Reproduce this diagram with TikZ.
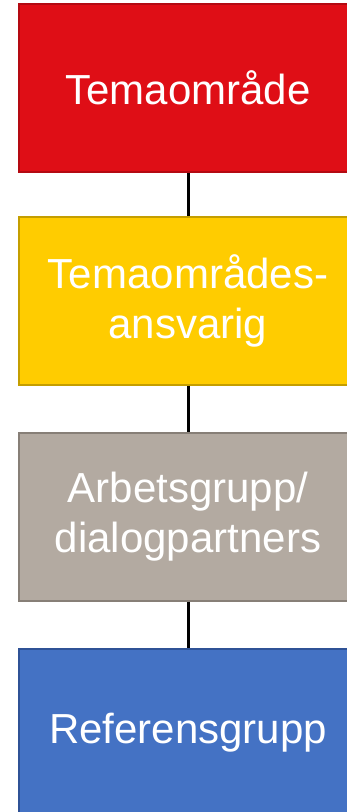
\documentclass[tikz,border=0pt]{standalone}
\usepackage{fontspec}
\setmainfont{Liberation Sans}
\definecolor{redfill}{RGB}{223,14,22}
\definecolor{redline}{RGB}{180,10,18}
\definecolor{yelfill}{RGB}{255,204,0}
\definecolor{yelline}{RGB}{196,158,0}
\definecolor{grayfill}{RGB}{179,170,161}
\definecolor{grayline}{RGB}{135,127,119}
\definecolor{bluefill}{RGB}{68,114,196}
\definecolor{blueline}{RGB}{47,82,150}
\tikzset{
  box/.style={draw, line width=2pt, minimum width=338pt, minimum height=168pt,
    inner sep=0pt, text=white, align=center,
    font=\fontsize{42}{50}\selectfont},
  link/.style={line width=3pt, black}
}
\begin{document}
\begin{tikzpicture}[x=1pt,y=-1pt]
\useasboundingbox (0,0) rectangle (347,812);
\clip (0,0) rectangle (347,812);
\node[box, fill=redfill, draw=redline] (r) at (188,88) {Temaområde};
\node[box, fill=yelfill, draw=yelline] (y) at (188,300.5) {Temaområdes-\\ansvarig};
\node[box, fill=grayfill, draw=grayline] (g) at (188,516.5) {Arbetsgrupp/\\dialogpartners};
\node[box, fill=bluefill, draw=blueline] (b) at (188,732.5) {Referensgrupp};
\draw[link] ([xshift=0.7pt]r.south) -- ([xshift=0.7pt]y.north);
\draw[link] ([xshift=0.7pt]y.south) -- ([xshift=0.7pt]g.north);
\draw[link] ([xshift=0.7pt]g.south) -- ([xshift=0.7pt]b.north);
\end{tikzpicture}
\end{document}
